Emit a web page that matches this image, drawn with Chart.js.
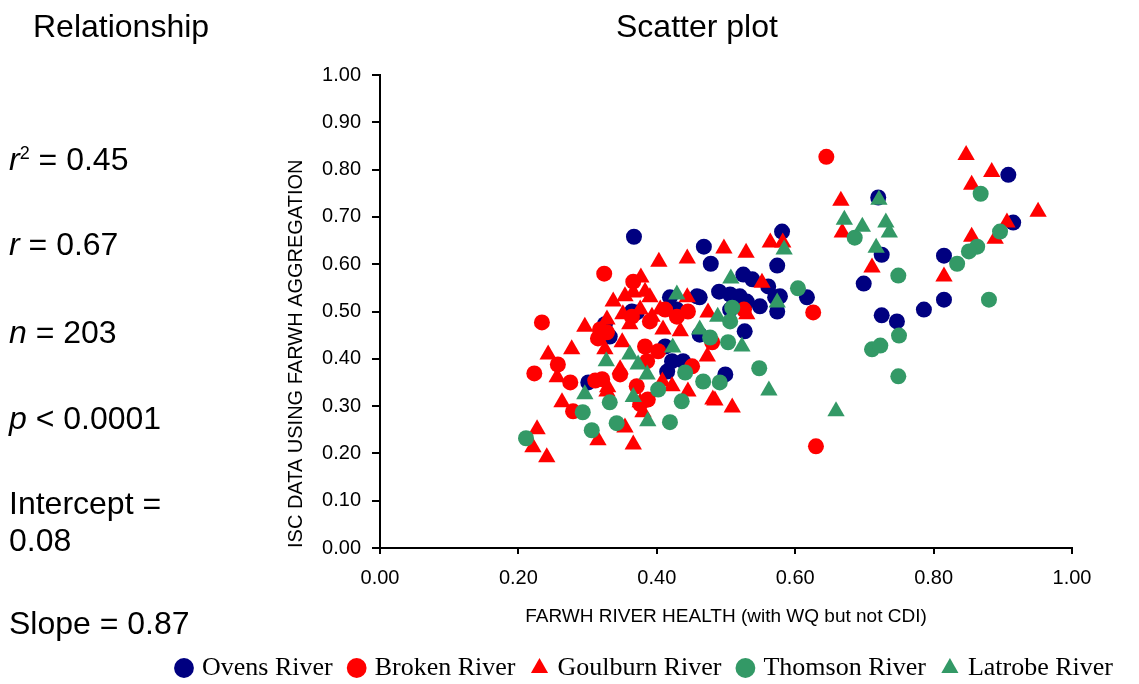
<!DOCTYPE html>
<html>
<head>
<meta charset="utf-8">
<title>Scatter plot</title>
<script src="https://cdn.jsdelivr.net/npm/chart.js@4.4.0/dist/chart.umd.min.js"></script>
<style>
  html, body { margin: 0; padding: 0; background: #fff; }
  #wrap { position: relative; width: 1139px; height: 684px; overflow: hidden; }
  #chart { position: absolute; left: 0; top: 0; }
  .txt {
    position: absolute;
    font-family: "Liberation Sans", Arial, Helvetica, sans-serif;
    font-size: 32px;
    line-height: 32px;
    color: #000;
    white-space: nowrap;
  }
  .txt sup { font-size: 18px; line-height: 0; vertical-align: 11px; }
</style>
</head>
<body>
<div id="wrap">
  <canvas id="chart" width="1139" height="684"></canvas>
  <div class="txt" style="left:33px;top:10px">Relationship</div>
  <div class="txt" style="left:616px;top:10px">Scatter plot</div>
  <div class="txt" style="left:9px;top:143px"><i>r</i><sup>2</sup> = 0.45</div>
  <div class="txt" style="left:9px;top:228px"><i>r</i> = 0.67</div>
  <div class="txt" style="left:9px;top:316px"><i>n</i> = 203</div>
  <div class="txt" style="left:9px;top:402px"><i>p</i> &lt; 0.0001</div>
  <div class="txt" style="left:9px;top:485px;line-height:37px">Intercept =<br>0.08</div>
  <div class="txt" style="left:9px;top:607px">Slope = 0.87</div>
</div>
<script>
// values
const ovensX = [0.367, 0.468, 0.478, 0.581, 0.574, 0.617, 0.578, 0.571, 0.574, 0.525, 0.538, 0.561, 0.490, 0.506, 0.530, 0.549, 0.462, 0.527, 0.499, 0.325, 0.332, 0.301, 0.371, 0.419, 0.458, 0.429, 0.412, 0.422, 0.415, 0.438, 0.462, 0.520, 0.506, 0.364, 0.720, 0.725, 0.699, 0.725, 0.747, 0.786, 0.815, 0.815, 0.908, 0.915];
const ovensY = [0.658, 0.637, 0.601, 0.669, 0.597, 0.530, 0.532, 0.530, 0.500, 0.578, 0.568, 0.553, 0.542, 0.536, 0.521, 0.511, 0.530, 0.458, 0.367, 0.473, 0.447, 0.350, 0.498, 0.530, 0.532, 0.504, 0.426, 0.395, 0.373, 0.395, 0.451, 0.532, 0.504, 0.500, 0.741, 0.620, 0.559, 0.492, 0.479, 0.504, 0.618, 0.525, 0.789, 0.688];

const brokenX = [0.645, 0.626, 0.630, 0.234, 0.328, 0.315, 0.257, 0.223, 0.275, 0.311, 0.279, 0.347, 0.324, 0.366, 0.318, 0.364, 0.383, 0.402, 0.386, 0.429, 0.412, 0.445, 0.451, 0.371, 0.387, 0.321, 0.526, 0.480, 0.376, 0.390];
const brokenY = [0.827, 0.498, 0.215, 0.477, 0.456, 0.443, 0.388, 0.369, 0.350, 0.354, 0.289, 0.367, 0.580, 0.563, 0.462, 0.489, 0.426, 0.416, 0.395, 0.489, 0.504, 0.500, 0.384, 0.342, 0.314, 0.357, 0.504, 0.435, 0.304, 0.479];

const goulburnX = [0.847, 0.884, 0.855, 0.951, 0.906, 0.855, 0.889, 0.815, 0.666, 0.668, 0.711, 0.497, 0.529, 0.564, 0.582, 0.403, 0.444, 0.552, 0.474, 0.530, 0.473, 0.484, 0.509, 0.296, 0.243, 0.277, 0.256, 0.325, 0.263, 0.328, 0.315, 0.227, 0.221, 0.241, 0.337, 0.354, 0.366, 0.383, 0.390, 0.405, 0.376, 0.351, 0.361, 0.409, 0.434, 0.444, 0.350, 0.328, 0.408, 0.422, 0.445, 0.481, 0.329, 0.347, 0.376, 0.380, 0.366, 0.354, 0.393, 0.377];
const goulburnY = [0.831, 0.795, 0.768, 0.711, 0.688, 0.658, 0.654, 0.574, 0.734, 0.667, 0.593, 0.633, 0.624, 0.646, 0.646, 0.605, 0.612, 0.561, 0.498, 0.494, 0.405, 0.312, 0.297, 0.468, 0.409, 0.420, 0.361, 0.420, 0.308, 0.331, 0.228, 0.251, 0.213, 0.192, 0.521, 0.532, 0.540, 0.542, 0.530, 0.504, 0.504, 0.494, 0.473, 0.462, 0.458, 0.530, 0.435, 0.483, 0.352, 0.342, 0.331, 0.314, 0.340, 0.378, 0.308, 0.287, 0.219, 0.255, 0.489, 0.572];

const thomsonX = [0.868, 0.896, 0.863, 0.851, 0.834, 0.880, 0.686, 0.749, 0.711, 0.723, 0.750, 0.749, 0.604, 0.509, 0.506, 0.477, 0.503, 0.548, 0.491, 0.467, 0.293, 0.332, 0.306, 0.342, 0.211, 0.441, 0.402, 0.436, 0.419];
const thomsonY = [0.749, 0.669, 0.637, 0.627, 0.601, 0.525, 0.656, 0.576, 0.420, 0.428, 0.449, 0.363, 0.549, 0.508, 0.479, 0.445, 0.435, 0.380, 0.350, 0.352, 0.287, 0.308, 0.249, 0.264, 0.232, 0.371, 0.335, 0.310, 0.266];

const latrobeX = [0.671, 0.697, 0.721, 0.731, 0.736, 0.717, 0.659, 0.584, 0.507, 0.574, 0.488, 0.523, 0.562, 0.327, 0.296, 0.429, 0.423, 0.361, 0.373, 0.386, 0.462, 0.366, 0.387];
const latrobeY = [0.694, 0.679, 0.736, 0.688, 0.667, 0.635, 0.289, 0.631, 0.570, 0.519, 0.489, 0.426, 0.333, 0.395, 0.325, 0.536, 0.424, 0.409, 0.388, 0.367, 0.462, 0.319, 0.268];

const seriesNames = ['Ovens River', 'Broken River', 'Goulburn River', 'Thomson River', 'Latrobe River'];
const xTicks = [0, 0.2, 0.4, 0.6, 0.8, 1.0];

const navy = '#000080', red = '#ff0000', green = '#339966';
const sans = '"Liberation Sans", Arial, Helvetica, sans-serif';

function pts(xs, ys) {
  return xs.map((x, i) => ({ x: x, y: ys[i] }));
}

function series(i, xs, ys, color, style, order) {
  return {
    label: seriesNames[i],
    data: pts(xs, ys),
    backgroundColor: color,
    borderColor: color,
    borderWidth: 0,
    pointStyle: style,
    pointRadius: style === 'triangle' ? 10 : 8,
    pointHoverRadius: style === 'triangle' ? 10 : 8,
    order: order
  };
}

new Chart(document.getElementById('chart'), {
  type: 'scatter',
  data: {
    datasets: [
      series(0, ovensX, ovensY, navy, 'circle', 5),
      series(1, brokenX, brokenY, red, 'circle', 4),
      series(2, goulburnX, goulburnY, red, 'triangle', 3),
      series(3, thomsonX, thomsonY, green, 'circle', 2),
      series(4, latrobeX, latrobeY, green, 'triangle', 1)
    ]
  },
  options: {
    responsive: false,
    animation: false,
    layout: { padding: { left: 153, right: 0, top: 75, bottom: -7 } },
    plugins: {
      title: { display: false },
      tooltip: { enabled: false },
      legend: {
        position: 'bottom',
        labels: {
          usePointStyle: true,
          boxWidth: 10,
          boxHeight: 14,
          padding: 19,
          color: '#000',
          font: { family: '"Liberation Serif", "Times New Roman", serif', size: 26 },
          sort: (a, b) => a.datasetIndex - b.datasetIndex
        }
      }
    },
    scales: {
      x: {
        type: 'linear',
        position: 'bottom',
        min: 0,
        max: 1,
        afterBuildTicks: s => { s.ticks = xTicks.map(v => ({ value: v })); },
        ticks: {
          padding: 12,
          color: '#000',
          maxRotation: 0,
          font: { family: sans, size: 20 },
          callback: v => Number(v).toFixed(2)
        },
        grid: { drawOnChartArea: false, tickLength: 6, color: '#000', lineWidth: 2 },
        border: { color: '#000', width: 2 },
        title: {
          display: true,
          text: 'FARWH RIVER HEALTH (with WQ but not CDI)',
          color: '#000',
          font: { family: sans, size: 19 },
          padding: { top: 0, bottom: 8 }
        },
        afterFit: s => { s.height = 88; }
      },
      y: {
        type: 'linear',
        position: 'left',
        min: 0,
        max: 1,
        ticks: {
          stepSize: 0.1,
          padding: 11,
          color: '#000',
          font: { family: sans, size: 20 },
          callback: v => Number(v).toFixed(2)
        },
        grid: { drawOnChartArea: false, tickLength: 8, color: '#000', lineWidth: 2 },
        border: { color: '#000', width: 2 },
        title: {
          display: true,
          text: 'ISC DATA USING FARWH AGGREGATION',
          align: 'start',
          color: '#000',
          font: { family: sans, size: 20 },
          padding: { top: 131, bottom: 0 }
        },
        afterFit: s => { s.width = 227; }
      },
      // empty right-hand axis that only reserves the margin right of the plot
      yRight: {
        type: 'linear',
        position: 'right',
        ticks: { display: false },
        grid: { display: false },
        border: { display: false },
        afterFit: s => { s.width = 67; }
      }
    }
  }
});
</script>
</body>
</html>
